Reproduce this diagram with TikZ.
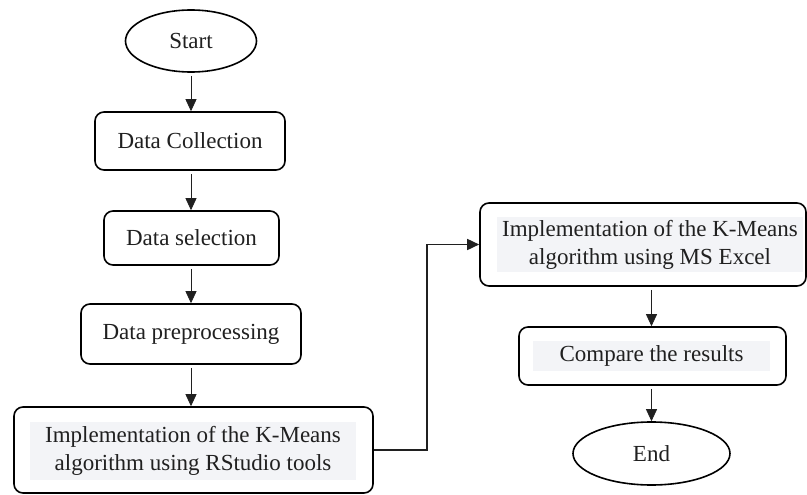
\documentclass[tikz,border=0pt]{standalone}
\usepackage{fontspec}
\setmainfont{Liberation Serif}
\usetikzlibrary{shapes.geometric,arrows.meta}
\definecolor{txt}{HTML}{202020}
\definecolor{hl}{HTML}{F3F4F7}
\begin{document}
\begin{tikzpicture}[x=1pt,y=-1pt,
  box/.style={draw, line width=1.6pt, rounded corners=9pt, inner sep=0pt},
  term/.style={draw, ellipse, line width=1.6pt, inner sep=0pt},
  lbl/.style={font=\fontsize{23}{28}\selectfont, text=txt, align=center},
  hlbl/.style={lbl, fill=hl, inner sep=0pt},
  arr/.style={-{Triangle[length=12pt,width=11pt]}, line width=0.8pt, draw=txt, shorten <=3pt}]
\useasboundingbox (0,0) rectangle (807,495);
\node[term, lbl, minimum width=131pt, minimum height=62pt] (start) at (191,41) {Start};
\node[box, lbl, minimum width=190pt, minimum height=58pt] (dc) at (190,141) {Data Collection};
\node[box, lbl, minimum width=175pt, minimum height=54pt] (ds) at (191.5,238) {Data selection};
\node[box, lbl, minimum width=220pt, minimum height=60pt] (dp) at (191,334) {Data preprocessing};
\node[box, minimum width=359pt, minimum height=86pt] (rs) at (193.5,450) {};
\node[hlbl, minimum width=326pt, minimum height=58pt] (rst) at (193,451) {Implementation of the K-Means\\algorithm using RStudio tools};
\node[box, minimum width=326pt, minimum height=83pt] (ex) at (643,244.5) {};
\node[hlbl, minimum width=306pt, minimum height=55pt] (ext) at (650,244.5) {Implementation of the K-Means\\algorithm using MS Excel};
\node[box, minimum width=267pt, minimum height=58pt] (cr) at (652.5,356) {};
\node[hlbl, minimum width=237pt, minimum height=30pt] (crt) at (651.5,356) {Compare the results};
\node[term, lbl, minimum width=157pt, minimum height=63pt] (end) at (651.5,453.5) {End};
\draw[arr] (start.south) -- (start.south |- dc.north);
\draw[arr] (dc.south -| start.south) -- (start.south |- ds.north);
\draw[arr] (ds.south -| start.south) -- (start.south |- dp.north);
\draw[arr] (dp.south -| start.south) -- (start.south |- rs.north);
\draw[arr, line width=1.6pt, shorten <=0pt] (rs.east) -- ++(53,0) |- (ex.west);
\draw[arr] (ex.south -| end.north) -- (end.north |- cr.north);
\draw[arr] (cr.south -| end.north) -- (end.north);
\end{tikzpicture}
\end{document}
